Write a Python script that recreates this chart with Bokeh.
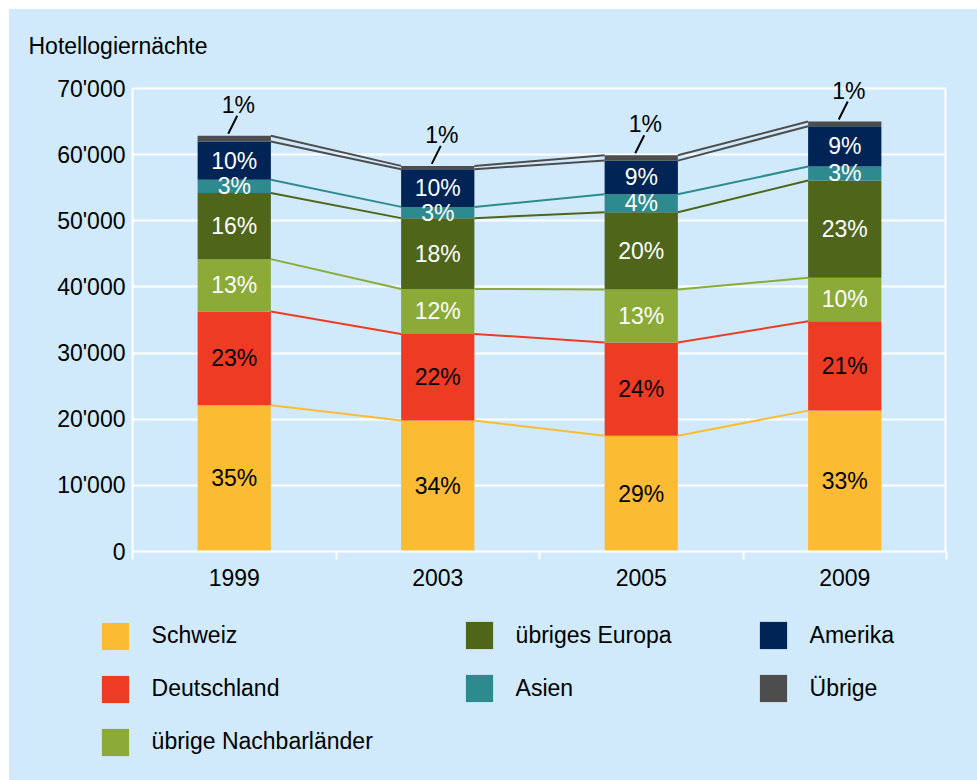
import numpy as np
from bokeh.plotting import figure
from bokeh.layouts import column
from bokeh.models import FixedTicker, Legend, LegendItem, ColumnDataSource, Title
from bokeh.embed import file_html
from bokeh.resources import INLINE
from bokeh.core.properties import value

# ---------------- data ----------------
years = ["1999", "2003", "2005", "2009"]
series = ["Schweiz", "Deutschland", "übrige Nachbarländer", "übriges Europa",
          "Asien", "Amerika", "Übrige"]

schweiz = [22100, 19800, 17500, 21300]
deutschland = [14200, 13100, 14100, 13500]
nachbar = [7900, 6800, 8000, 6600]
europa = [10000, 10700, 11700, 14700]
asien = [2000, 1700, 2700, 2100]
amerika = [5800, 5700, 5100, 6100]
uebrige = [850, 500, 800, 700]

pct_schweiz = ["35%", "34%", "29%", "33%"]
pct_deutschland = ["23%", "22%", "24%", "21%"]
pct_nachbar = ["13%", "12%", "13%", "10%"]
pct_europa = ["16%", "18%", "20%", "23%"]
pct_asien = ["3%", "3%", "4%", "3%"]
pct_amerika = ["10%", "10%", "9%", "9%"]
pct_uebrige = ["1%", "1%", "1%", "1%"]

y_ticks = [0, 10000, 20000, 30000, 40000, 50000, 60000, 70000]
y_tick_labels = ["0", "10'000", "20'000", "30'000", "40'000", "50'000", "60'000", "70'000"]
title_text = "Hotellogiernächte"

# ---------------- style ----------------
colors = ["#FBBC33", "#EE3B24", "#8BAA37", "#4E651A", "#2D8B8F", "#002456", "#4D4D4D"]
line_colors = ["#FBBC33", "#EE3B24", "#8BAA37", "#4E651A", "#2D8B8F", "#4D4D4D", "#4D4D4D"]
text_colors = ["black", "black", "white", "white", "white", "white", "black"]
BG = "#D0EAFC"
FONT = "Liberation Sans"
FS = "23px"
BAR_W = 0.36

values = [schweiz, deutschland, nachbar, europa, asien, amerika, uebrige]
pcts = [pct_schweiz, pct_deutschland, pct_nachbar, pct_europa, pct_asien, pct_amerika, pct_uebrige]

W = 968
FRAME_W, BOX_H, TOP_PAD = 814, 463, 9
Y_MAX = y_ticks[-1]
y_end = Y_MAX * (BOX_H + TOP_PAD) / BOX_H

p = figure(x_range=(-0.5, 3.5), y_range=(0, y_end),
           frame_width=FRAME_W, frame_height=BOX_H + TOP_PAD,
           min_border_left=123, min_border_top=70, min_border_right=31, min_border_bottom=58,
           output_backend="svg", toolbar_location=None)
p.frame_align = False
p.background_fill_color = BG
p.border_fill_color = BG
p.outline_line_color = None

xpx = 4.0 / FRAME_W      # data units per pixel (x)
ypx = Y_MAX / BOX_H      # data units per pixel (y)

idx = list(range(len(years)))
data = {"x": idx}
for name, vals in zip(series, values):
    data[name] = vals
src = ColumnDataSource(data)

# right edge of the white box
p.segment(x0=[idx[-1] + 0.5], y0=[0], x1=[idx[-1] + 0.5], y1=[Y_MAX],
          line_color="white", line_width=4)

renderers = p.vbar_stack(series, x="x", width=BAR_W, source=src,
                         fill_color=colors, line_color=None)

# connector lines + labels
cum = np.zeros(len(years))
for k, vals in enumerate(values):
    bottom = cum.copy()
    cum = cum + np.array(vals, dtype=float)
    top = cum.copy()
    p.segment(x0=[i + BAR_W / 2 for i in idx[:-1]], y0=list(top[:-1]),
              x1=[i + 1 - BAR_W / 2 for i in idx[:-1]], y1=list(top[1:]),
              line_color=line_colors[k], line_width=2)
    if k < len(values) - 1:
        p.text(x=idx, y=list((bottom + top) / 2), text=pcts[k],
               text_align="center", text_baseline="middle",
               text_font=value(FONT), text_font_size=FS, text_color=text_colors[k])
    else:
        p.text(x=idx, y=list(top), text=pcts[k], x_offset=4, y_offset=-31,
               text_align="center", text_baseline="middle",
               text_font=value(FONT), text_font_size=FS, text_color="black")
        p.segment(x0=[i - 6 * xpx for i in idx], y0=list(top + 2 * ypx),
                  x1=[i + 3 * xpx for i in idx], y1=list(top + 20 * ypx),
                  line_color="black", line_width=2)

# grid
p.xgrid.grid_line_color = None
p.ygrid.grid_line_color = "white"
p.ygrid.grid_line_width = 2
p.ygrid.ticker = FixedTicker(ticks=y_ticks)

# y axis
p.yaxis.ticker = FixedTicker(ticks=y_ticks)
p.yaxis.bounds = (0, Y_MAX)
p.yaxis.major_label_overrides = {t: l for t, l in zip(y_ticks, y_tick_labels)}
p.yaxis.axis_line_color = "white"
p.yaxis.axis_line_width = 2
p.yaxis.major_tick_line_color = None
p.yaxis.minor_tick_line_color = None
p.yaxis.major_tick_out = 0
p.yaxis.major_label_standoff = 7
p.yaxis.major_label_text_font = FONT
p.yaxis.major_label_text_font_size = FS
p.yaxis.major_label_text_color = "black"

# x axis
p.xaxis.ticker = FixedTicker(ticks=idx, minor_ticks=[i - 0.5 for i in idx] + [idx[-1] + 0.5])
p.xaxis.major_label_overrides = {i: y for i, y in zip(idx, years)}
p.xaxis.axis_line_color = "white"
p.xaxis.axis_line_width = 2
p.xaxis.major_tick_line_color = None
p.xaxis.major_tick_out = 0
p.xaxis.major_tick_in = 0
p.xaxis.minor_tick_line_color = "white"
p.xaxis.minor_tick_line_width = 2
p.xaxis.minor_tick_out = 8
p.xaxis.minor_tick_in = 0
p.xaxis.major_label_standoff = 9
p.xaxis.major_label_text_font = FONT
p.xaxis.major_label_text_font_size = FS
p.xaxis.major_label_text_color = "black"

# title
p.title = Title(text=title_text, align="left", offset=-104, standoff=42,
                text_font=FONT, text_font_size=FS, text_font_style="normal",
                text_color="black")

# ---------------- legend figure ----------------
LEG_H = 171
pl = figure(width=W, height=LEG_H, x_range=(0, 1), y_range=(0, 1),
            min_border=0, min_border_left=0, min_border_right=0,
            min_border_top=0, min_border_bottom=0,
            x_axis_type=None, y_axis_type=None,
            output_backend="svg", toolbar_location=None)
pl.frame_align = False
pl.background_fill_color = BG
pl.border_fill_color = BG
pl.outline_line_color = None
pl.grid.visible = False
# off-screen proxies that only lend their colours to the legend
dummies = [pl.vbar(x=[-10], top=[-10], width=0.1, fill_color=c, line_color=None) for c in colors]

cols = [[0, 1, 2], [3, 4], [5, 6]]
col_x = [88.6, 452.6, 746.6]
col_y = [21.3, 75, 75]
for c, members in enumerate(cols):
    items = [LegendItem(label=series[m], renderers=[dummies[m]]) for m in members]
    lg = Legend(items=items, location=(col_x[c], col_y[c]),
                orientation="vertical",
                glyph_width=34, glyph_height=34, label_height=34,
                label_standoff=20, spacing=19, padding=0, margin=0,
                background_fill_alpha=0, border_line_color=None,
                label_text_font=FONT, label_text_font_size=FS,
                label_text_color="black")
    pl.add_layout(lg, "center")

layout = column(p, pl, spacing=0,
                styles={"margin-left": "9px", "margin-top": "9px", "background-color": BG})

open("out.html", "w").write(file_html(layout, INLINE))
